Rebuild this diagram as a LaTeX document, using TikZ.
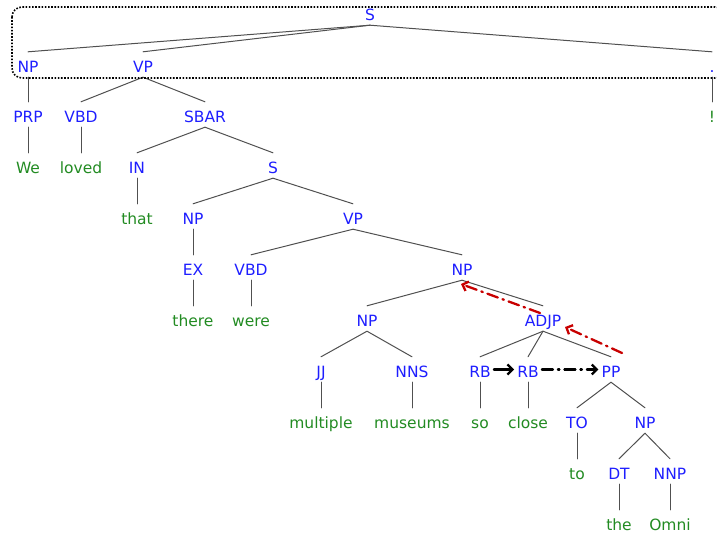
\documentclass[tikz,border=0pt]{standalone}
\usepackage{fontspec}
\setmainfont{DejaVu Sans}
\usetikzlibrary{arrows.meta}

\begin{document}
\begin{tikzpicture}
		[x=1pt,y=-1pt,line cap=round,
		%Styles
		label box/.style={anchor=base,inner sep=0pt,text height=20.5pt,text depth=4.5pt,font=\fontsize{15.5}{18}\selectfont},
		tag/.style={label box,text=tagcolor},
		word/.style={label box,text=wordcolor},
		branch/.style={draw=branchcolor,line width=1pt},
		hop/.style={line width=2.3pt,-{Straight Barb[length=5pt,width=10pt]}},
		movedash/.style={dash pattern=on 11pt off 5pt on 1.5pt off 5pt},
		clause box/.style={line width=1.6pt,line cap=butt,dash pattern=on 1.6pt off 1.6pt,rounded corners=10pt}
		]
		
		%Colors
		\definecolor{tagcolor}{RGB}{30,30,255}		%phrase and POS tags
		\definecolor{wordcolor}{RGB}{34,139,34}		%leaves
		\definecolor{branchcolor}{RGB}{80,80,80}
		\definecolor{movecolor}{RGB}{200,0,0}
		
		\useasboundingbox (0,0) rectangle (717,535);
		\clip (0,0) rectangle (717,535);
		
		%Tags
		\node[tag] (s0) at (370,20.5) {S};
		\node[tag] (np1) at (28,72.5) {NP};
		\node[tag] (vp1) at (143,72.5) {VP};
		\node[tag] (punct) at (712,72.5) {.};
		\node[tag] (prp) at (28,122.5) {PRP};
		\node[tag] (vbd1) at (81,122.5) {VBD};
		\node[tag] (sbar) at (205,122.5) {SBAR};
		\node[tag] (in) at (137,173.5) {IN};
		\node[tag] (s1) at (273,173.5) {S};
		\node[tag] (np2) at (193,224.5) {NP};
		\node[tag] (vp2) at (353,224.5) {VP};
		\node[tag] (ex) at (193,275.5) {EX};
		\node[tag] (vbd2) at (251,275.5) {VBD};
		\node[tag] (np3) at (462,275.5) {NP};
		\node[tag] (np4) at (367,326.5) {NP};
		\node[tag] (adjp) at (543,326.5) {ADJP};
		\node[tag] (jj) at (321,377.5) {JJ};
		\node[tag] (nns) at (412,377.5) {NNS};
		\node[tag] (rb1) at (480,377.5) {RB};
		\node[tag] (rb2) at (528,377.5) {RB};
		\node[tag] (pp) at (611,377.5) {PP};
		\node[tag] (to1) at (577,428.5) {TO};
		\node[tag] (np5) at (645,428.5) {NP};
		\node[tag] (dt) at (619,479.5) {DT};
		\node[tag] (nnp) at (670,479.5) {NNP};
		
		%Words
		\node[word] (excl) at (712,122.5) {!};
		\node[word] (we) at (28,173.5) {We};
		\node[word] (loved) at (81,173.5) {loved};
		\node[word] (that) at (137,224.5) {that};
		\node[word] (there) at (193,326.5) {there};
		\node[word] (were) at (251,326.5) {were};
		\node[word] (multiple) at (321,428.5) {multiple};
		\node[word] (museums) at (412,428.5) {museums};
		\node[word] (so) at (480,428.5) {so};
		\node[word] (close) at (528,428.5) {close};
		\node[word] (to) at (577,479.5) {to};
		\node[word] (the) at (619,530.5) {the};
		\node[word] (omni) at (670,530.5) {Omni};
		
		%Branches
		\foreach \p/\c in {s0/np1,s0/vp1,s0/punct,np1/prp,vp1/vbd1,vp1/sbar,punct/excl,
				prp/we,vbd1/loved,sbar/in,sbar/s1,in/that,s1/np2,s1/vp2,np2/ex,vp2/vbd2,vp2/np3,
				ex/there,vbd2/were,np3/np4,np3/adjp,np4/jj,np4/nns,adjp/rb1,adjp/rb2,adjp/pp,
				jj/multiple,nns/museums,rb1/so,rb2/close,pp/to1,pp/np5,to1/to,np5/dt,np5/nnp,
				dt/the,nnp/omni}
			\draw[branch] (\p.south) -- (\c.north);
		
		%Clause box
		\draw[clause box] (12,7) rectangle (725,78);
		
		%Moves
		\coordinate (adjp out) at (540,313);
		\coordinate (np3 in) at (461,284);
		\coordinate (pp out) at (622,353);
		\coordinate (adjp in) at (565,327);
		\draw[hop,movecolor,movedash] (adjp out) -- (np3 in);
		\draw[hop,movecolor,movedash] (pp out) -- (adjp in);
		\draw[hop] ([xshift=3pt]rb1.east) -- ([xshift=-3pt]rb2.west);
		\draw[hop,movedash] ([xshift=3pt]rb2.east) -- ([xshift=-3pt]pp.west);
	\end{tikzpicture}
\end{document}
